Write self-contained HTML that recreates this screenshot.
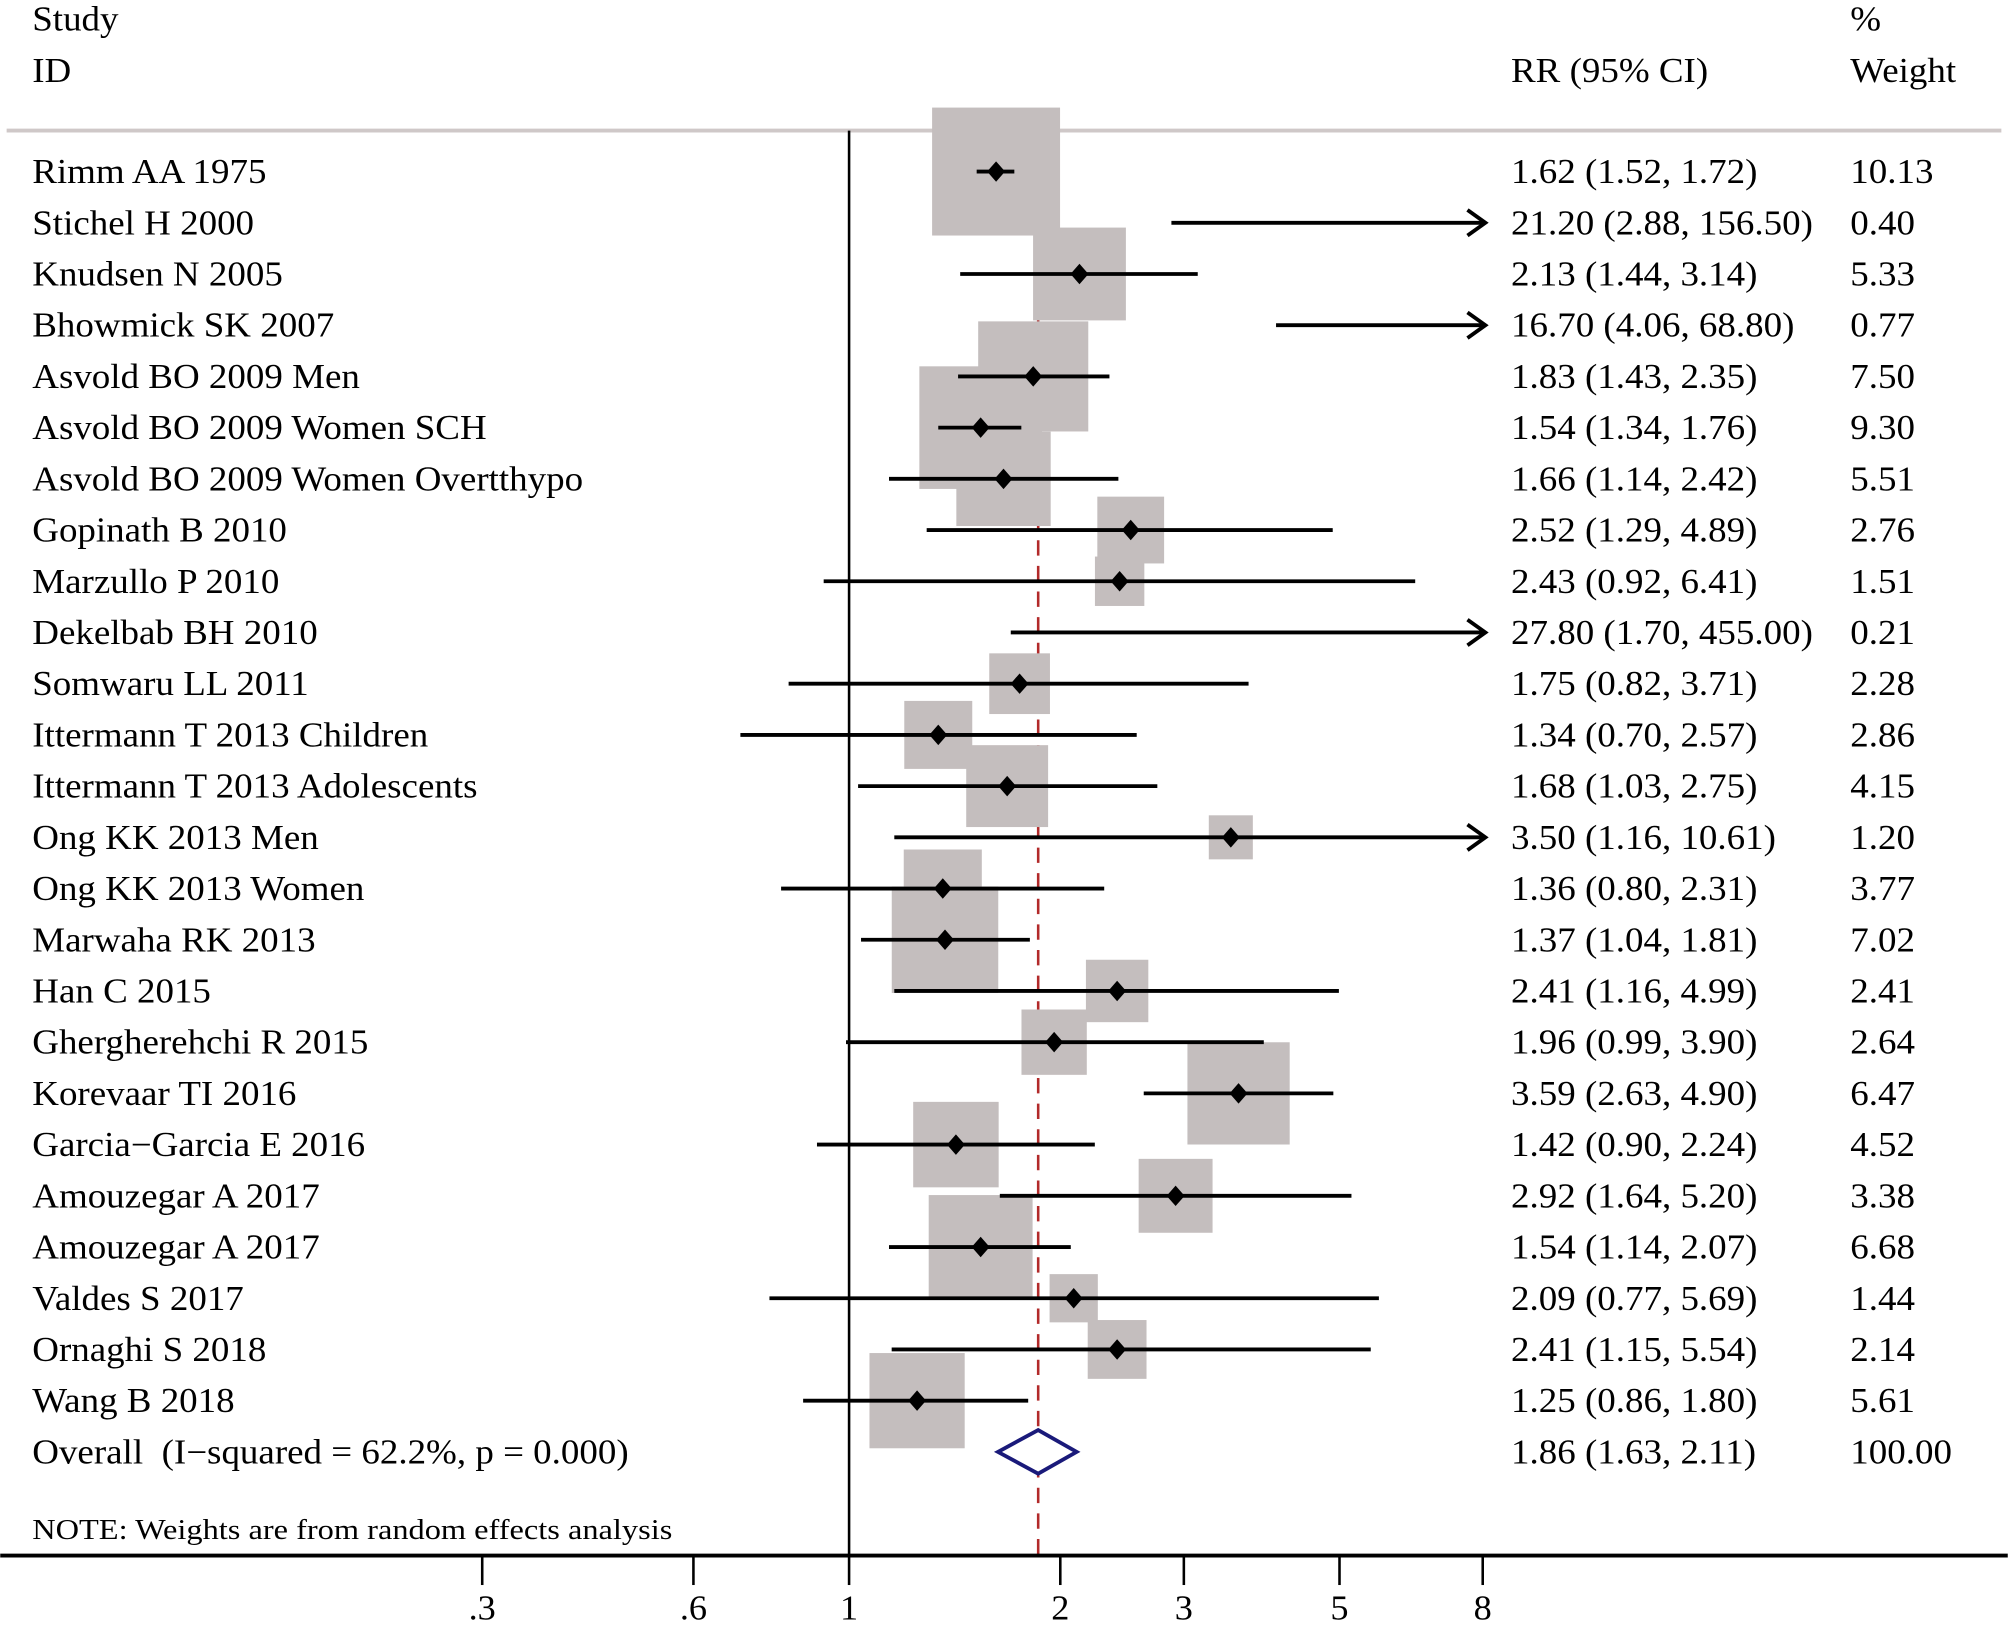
<!DOCTYPE html>
<html><head><meta charset="utf-8"><style>
html,body{margin:0;padding:0;background:#fff}
svg{display:block}
text{font-family:"Liberation Serif",serif;fill:#000}
</style></head><body>
<svg id="chart" width="2008" height="1626" viewBox="0 0 1568 1270" xmlns="http://www.w3.org/2000/svg">
</svg>
<script>
const studies=["Rimm AA 1975","Stichel H 2000","Knudsen N 2005","Bhowmick SK 2007","Asvold BO 2009 Men","Asvold BO 2009 Women SCH","Asvold BO 2009 Women Overtthypo","Gopinath B 2010","Marzullo P 2010","Dekelbab BH 2010","Somwaru LL 2011","Ittermann T 2013 Children","Ittermann T 2013 Adolescents","Ong KK 2013 Men","Ong KK 2013 Women","Marwaha RK 2013","Han C 2015","Ghergherehchi R 2015","Korevaar TI 2016","Garcia\u2212Garcia E 2016","Amouzegar A 2017","Amouzegar A 2017","Valdes S 2017","Ornaghi S 2018","Wang B 2018"];
const rr=[1.62,21.20,2.13,16.70,1.83,1.54,1.66,2.52,2.43,27.80,1.75,1.34,1.68,3.50,1.36,1.37,2.41,1.96,3.59,1.42,2.92,1.54,2.09,2.41,1.25];
const lo=[1.52,2.88,1.44,4.06,1.43,1.34,1.14,1.29,0.92,1.70,0.82,0.70,1.03,1.16,0.80,1.04,1.16,0.99,2.63,0.90,1.64,1.14,0.77,1.15,0.86];
const hi=[1.72,156.50,3.14,68.80,2.35,1.76,2.42,4.89,6.41,455.00,3.71,2.57,2.75,10.61,2.31,1.81,4.99,3.90,4.90,2.24,5.20,2.07,5.69,5.54,1.80];
const weights=[10.13,0.40,5.33,0.77,7.50,9.30,5.51,2.76,1.51,0.21,2.28,2.86,4.15,1.20,3.77,7.02,2.41,2.64,6.47,4.52,3.38,6.68,1.44,2.14,5.61];
const overall=[1.86,1.63,2.11];
const tickVals=[0.3,0.6,1,2,3,5,8];
const tickLabels=[".3",".6","1","2","3","5","8"];

const svg=document.getElementById('chart');
const NS="http://www.w3.org/2000/svg";
const X=v=>663+238*Math.log(v);
const Y=i=>134+40*i;
const XMAX=1160;
function el(tag,attrs,parent){const e=document.createElementNS(NS,tag);for(const k in attrs)e.setAttribute(k,attrs[k]);(parent||svg).appendChild(e);return e;}
function txt(s,x,y,size,name,anchor,sx){
  const t=el('text',{x:0,y:0,'font-size':size,'text-anchor':anchor||'start',transform:`translate(${x},${y}) scale(${sx||1.07},1)`});
  t.textContent=s;
  
  
  return t;}

txt("Study",25,24,27,'study-header');
txt("ID",25,64,27,'id-header');
txt("RR (95% CI)",1180,64,27,'rr-ci-header');
txt("%",1445,24,27,'percent-header');
txt("Weight",1445,64,27,'weight-header');
const hl=el('line',{x1:5,y1:102,x2:1563,y2:102,stroke:'#cfc8c8','stroke-width':3});



const dl=el('line',{x1:X(overall[0]),y1:102,x2:X(overall[0]),y2:1215,stroke:'#b22a2a','stroke-width':2,'stroke-dasharray':'12,8'});



for(let i=0;i<studies.length;i++){
  if(X(rr[i])>=XMAX) continue;
  const s=31.4*Math.sqrt(weights[i]);
  const r=el('rect',{x:X(rr[i])-s/2,y:Y(i)-s/2,width:s,height:s,fill:'#c4bebe'});
  
  
}
const nl=el('line',{x1:663,y1:102,x2:663,y2:1215,stroke:'#000','stroke-width':2});



for(let i=0;i<studies.length;i++){
  const y=Y(i);
  const x1=X(lo[i]);
  const over=X(hi[i])>XMAX;
  const x2=over?XMAX:X(hi[i]);
  const l=el('line',{x1:x1,y1:y,x2:x2,y2:y,stroke:'#000','stroke-width':3});
  
  
  if(over){
    const a=el('polyline',{points:`${XMAX-14},${y-10} ${XMAX},${y} ${XMAX-14},${y+10}`,fill:'none',stroke:'#000','stroke-width':3});
    
    
  }
  const cx=X(rr[i]);
  if(cx<XMAX){
    const d=el('polygon',{points:`${cx},${y-8} ${cx+7},${y} ${cx},${y+8} ${cx-7},${y}`,fill:'#000'});
    
    
  }
  txt(studies[i],25,y+9,27,'study-label-'+(i+1));
  txt(`${rr[i].toFixed(2)} (${lo[i].toFixed(2)}, ${hi[i].toFixed(2)})`,1180,y+9,27,'rr-ci-'+(i+1));
  txt(weights[i].toFixed(2),1445,y+9,27,'weight-'+(i+1));
}
const oy=Y(studies.length);
const od=el('polygon',{points:`${X(overall[1])},${oy} ${X(overall[0])},${oy-17} ${X(overall[2])},${oy} ${X(overall[0])},${oy+17}`,fill:'#fff',stroke:'#1a1a7a','stroke-width':3});


txt("Overall\u00a0 (I\u2212squared = 62.2%, p = 0.000)",25,oy+9,27,'overall-label');
txt("1.86 (1.63, 2.11)",1180,oy+9,27,'overall-rr-ci');
txt("100.00",1445,oy+9,27,'overall-weight');
txt("NOTE: Weights are from random effects analysis",25,1202,22,'note',null,1.15);

const ax=el('line',{x1:0,y1:1215,x2:1568,y2:1215,stroke:'#000','stroke-width':3});


for(let i=0;i<tickVals.length;i++){
  const x=X(tickVals[i]);
  const t=el('line',{x1:x,y1:1215,x2:x,y2:1238,stroke:'#000','stroke-width':2});
  
  
  txt(tickLabels[i],x,1265,27,'x-tick-label','middle',1.05);
}
</script>
</body></html>
